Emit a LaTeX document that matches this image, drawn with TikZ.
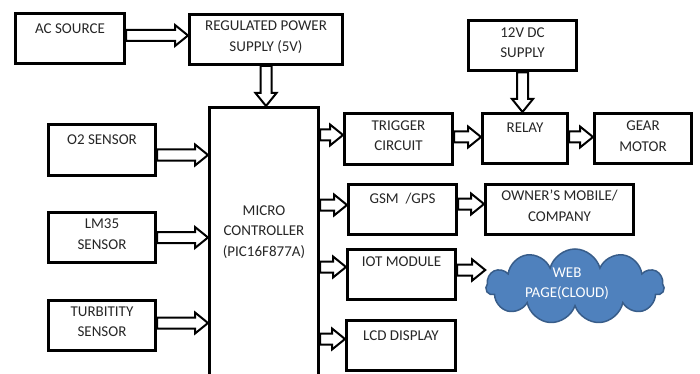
\documentclass[tikz,border=0pt]{standalone}
\usepackage{fontspec}
\setmainfont{Carlito}
\usetikzlibrary{calc,shapes.symbols}
\definecolor{cloudfill}{RGB}{79,129,189}
\definecolor{cloudline}{RGB}{56,93,138}
\tikzset{
  blk/.style={draw, line width=3pt, minimum width=#1, minimum height=50pt, inner sep=0pt},
  blk/.default=108pt,
  lbl/.style={anchor=north, align=center, inner sep=0pt, yshift=-#1, text=black!85},
  lbl/.default=8pt,
  fat/.style={draw, line width=2pt, line join=miter, to path={
    let \p1=(\tikztostart), \p2=(\tikztotarget),
        \n1={atan2(\y2-\y1,\x2-\x1)}, \n2={veclen(\x2-\x1,\y2-\y1)-13pt} in
    ($(\p1)+(\n1+90:5.5pt)$) -- ($(\p1)+(\n1:\n2)+(\n1+90:5.5pt)$)
    -- ($(\p1)+(\n1:\n2)+(\n1+90:10.5pt)$) -- (\p2)
    -- ($(\p1)+(\n1:\n2)+(\n1-90:10.5pt)$)
    -- ($(\p1)+(\n1:\n2)+(\n1-90:5.5pt)$)
    -- ($(\p1)+(\n1-90:5.5pt)$) -- cycle}}
}
\begin{document}
\begin{tikzpicture}[x=1pt,y=-1pt,font=\fontsize{15}{20.5}\selectfont]
  \useasboundingbox (0,0) rectangle (700,374);
  \clip (0,0) rectangle (700,374);
  \node[blk=109pt, label={[lbl=11.5pt]north:AC SOURCE}] (ac) at (70,38.5) {};
  \node[blk=153pt, label={[lbl]north:REGULATED POWER\\SUPPLY (5V)}] (reg) at (266,39.5) {};
  \node[blk=109pt, minimum height=293pt,
        label={[lbl=99.5pt]north:MICRO\\CONTROLLER\\(PIC16F877A)}] (mcu) at (264,254) {};
  \node[blk=107pt, label={[lbl=11.5pt]north:O2 SENSOR}] (o2) at (102,150) {};
  \node[blk=107pt, label={[lbl]north:LM35\\SENSOR}] (lm) at (102,237.5) {};
  \node[blk=107pt, label={[lbl]north:TURBITITY\\SENSOR}] (turb) at (102,325) {};
  \node[blk, label={[lbl]north:12V DC\\SUPPLY}] (dc) at (522.5,46) {};
  \node[blk, label={[lbl]north:TRIGGER\\CIRCUIT}] (trig) at (398.5,139) {};
  \node[blk=85pt, label={[lbl=10.5pt]north:RELAY}] (relay) at (525,138.5) {};
  \node[blk=97pt, label={[lbl=9pt]north:GEAR\\MOTOR}] (gear) at (643,138.5) {};
  \node[blk, label={[lbl=10.5pt]north:GSM\ \ /GPS}] (gsm) at (402.5,209) {};
  \node[blk=148pt, label={[lbl=7.5pt]north:OWNER’S MOBILE/\\COMPANY}] (owner) at (559.5,209) {};
  \node[blk, label={[lbl=9.5pt]north:IOT MODULE}] (iot) at (401.5,274) {};
  \node[blk=109pt, label={[lbl=12.5pt]north:LCD DISPLAY}] (lcd) at (401,345) {};
  \node[cloud, cloud puffs=11, cloud ignores aspect, draw=cloudline, fill=cloudfill,
        line width=1.5pt, minimum width=178pt, minimum height=75pt,
        label={[lbl=19pt, text=white, xshift=-8pt]north:WEB\\PAGE(CLOUD)}] (web) at (575,286.5) {};

  \draw[fat] ([yshift=3pt]ac.east) to ([yshift=3pt]ac.east -| reg.west);
  \draw[fat] (reg.south) to (reg.south |- mcu.north);
  \draw[fat] ([yshift=-5pt]o2.east) to ([yshift=-5pt]o2.east -| mcu.west);
  \draw[fat] (lm.east) to (lm.east -| mcu.west);
  \draw[fat] ([yshift=2pt]turb.east) to ([yshift=2pt]turb.east -| mcu.west);
  \draw[fat] ([yshift=4pt]trig.west -| mcu.east) to ([yshift=4pt]trig.west);
  \draw[fat] ([yshift=2pt]trig.east) to ([yshift=2pt]trig.east -| relay.west);
  \draw[fat] ([yshift=1.5pt]relay.east) to ([yshift=1.5pt]relay.east -| gear.west);
  \draw[fat] (dc.south) to (dc.south |- relay.north);
  \draw[fat] ([yshift=4pt]gsm.west -| mcu.east) to ([yshift=4pt]gsm.west);
  \draw[fat] ([yshift=5pt]gsm.east) to ([yshift=5pt]gsm.east -| owner.west);
  \draw[fat] ([yshift=7pt]iot.west -| mcu.east) to ([yshift=7pt]iot.west);
  \draw[fat] ([yshift=4pt]iot.east) to ([yshift=4pt]iot.east -| web.west);
  \draw[fat] ([yshift=6pt]lcd.west -| mcu.east) to ([yshift=6pt]lcd.west);
\end{tikzpicture}
\end{document}
